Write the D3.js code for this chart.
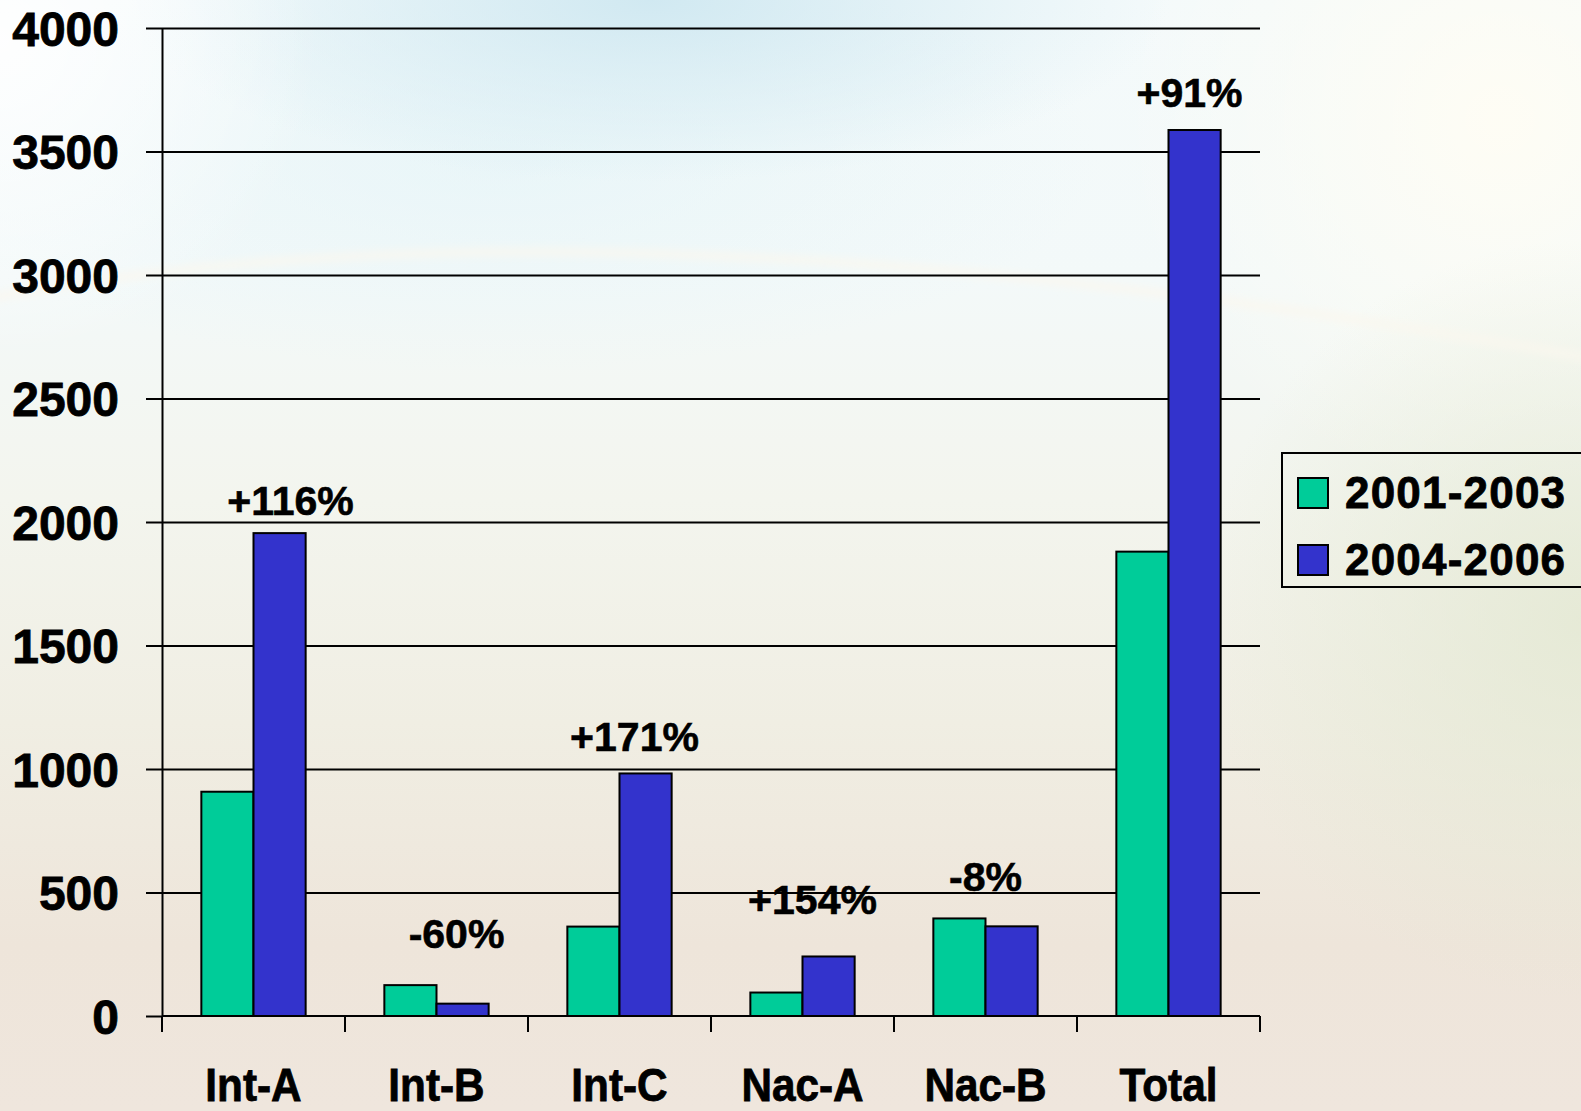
<!DOCTYPE html>
<html>
<head>
<meta charset="utf-8">
<script src="https://cdn.jsdelivr.net/npm/d3@7"></script>
<style>
  html, body { margin: 0; padding: 0; overflow: hidden; }
  svg { display: block; }
</style>
</head>
<body>
<svg id="chart" width="1581" height="1111"></svg>
<script>
// ---- data ----
const categories = ["Int-A", "Int-B", "Int-C", "Nac-A", "Nac-B", "Total"];
const seriesNames = ["2001-2003", "2004-2006"];
const values2001_2003 = [908, 125, 362, 95, 395, 1880];
const values2004_2006 = [1955, 50, 982, 241, 363, 3587];
const changeLabels = ["+116%", "-60%", "+171%", "+154%", "-8%", "+91%"];
const yTicks = [0, 500, 1000, 1500, 2000, 2500, 3000, 3500, 4000];

// ---- layout / style ----
const W = 1581, H = 1111;
const colors = ["#00CC99", "#3333CC"];
const plotLeft = 162, plotRight = 1260, plotTop = 28, plotBottom = 1016;
// label offsets (dx from group centre, dy above taller bar)
const labelNudge = [[37, -18], [20, -37], [15, -22], [10, -42], [0, -27], [21, -23]];

const svg = d3.select("#chart");
const defs = svg.append("defs");

function radial(id, cx, cy, r, color, op, transform) {
  const g = defs.append("radialGradient").attr("id", id).attr("gradientUnits", "userSpaceOnUse")
    .attr("cx", cx).attr("cy", cy).attr("r", r);
  if (transform) g.attr("gradientTransform", transform);
  g.append("stop").attr("offset", "0%").attr("stop-color", color).attr("stop-opacity", op);
  g.append("stop").attr("offset", "100%").attr("stop-color", color).attr("stop-opacity", 0);
}

// background
const lg = defs.append("linearGradient").attr("id", "bg").attr("x1", 0).attr("y1", 0).attr("x2", 0).attr("y2", 1);
[["0%", "#f4fafb"], ["25%", "#f3f9f9"], ["45%", "#f3f5ee"], ["65%", "#f0eee3"], ["85%", "#eee5da"], ["100%", "#efe6dd"]]
  .forEach(([o, c]) => lg.append("stop").attr("offset", o).attr("stop-color", c));
radial("bgBlue", 650, 0, 520, "#cfe8f1", 0.95, "translate(650,0) scale(1,0.35) translate(-650,0)");
radial("bgCyan2", 500, 160, 600, "#e2f3f7", 0.6, "translate(500,160) scale(1,0.35) translate(-500,-160)");
radial("bgCream", 1500, 120, 380, "#fffdf4", 0.95);
radial("bgGreen", 1581, 620, 380, "#e3e8d2", 0.8);
radial("bgWhite", 0, 40, 320, "#ffffff", 0.9);
const blur = defs.append("filter").attr("id", "blur").attr("x", "-20%").attr("y", "-20%").attr("width", "140%").attr("height", "140%");
blur.append("feGaussianBlur").attr("stdDeviation", 4);

svg.append("rect").attr("width", W).attr("height", H).attr("fill", "url(#bg)");
svg.append("rect").attr("width", W).attr("height", H).attr("fill", "url(#bgCyan2)");
svg.append("rect").attr("width", W).attr("height", H).attr("fill", "url(#bgBlue)");
svg.append("rect").attr("width", W).attr("height", H).attr("fill", "url(#bgCream)");
svg.append("rect").attr("width", W).attr("height", H).attr("fill", "url(#bgGreen)");
svg.append("rect").attr("width", W).attr("height", H).attr("fill", "url(#bgWhite)");
svg.append("path").attr("d", "M-20,300 Q600,180 1600,360")
  .attr("fill", "none").attr("stroke", "#fbf7ee").attr("stroke-opacity", 0.9).attr("stroke-width", 7)
  .attr("filter", "url(#blur)");

// scales
const x = d3.scaleBand().domain(categories).range([plotLeft, plotRight]).padding(0);
const groupW = x.bandwidth() * 0.57;
const x1 = d3.scaleBand().domain(seriesNames).range([0, groupW]).padding(0);
const y = d3.scaleLinear().domain([0, 4000]).range([plotBottom, plotTop]);

const tickFont = "'Liberation Sans', Arial, sans-serif";

// gridlines
const grid = svg.append("g").attr("transform", `translate(${plotLeft},0)`)
  .call(d3.axisLeft(y).tickValues(yTicks.filter(v => v > 0)).tickSize(-(plotRight - plotLeft)).tickFormat(""));
grid.select(".domain").remove();
grid.selectAll("line").attr("stroke", "#000").attr("stroke-width", 2);

// bars
const rows = categories.map((c, i) => ({ cat: c, vals: [values2001_2003[i], values2004_2006[i]] }));
const groups = svg.append("g").selectAll("g").data(rows).join("g")
  .attr("transform", d => `translate(${x(d.cat) + (x.bandwidth() - groupW) / 2},0)`);
groups.selectAll("rect").data(d => d.vals.map((v, j) => ({ s: seriesNames[j], v, j }))).join("rect")
  .attr("x", d => x1(d.s))
  .attr("width", x1.bandwidth())
  .attr("y", d => y(d.v))
  .attr("height", d => y(0) - y(d.v))
  .attr("fill", d => colors[d.j])
  .attr("stroke", "#000").attr("stroke-width", 2);

// y axis
const yAxis = svg.append("g").attr("transform", `translate(${plotLeft},0)`)
  .call(d3.axisLeft(y).tickValues(yTicks).tickSize(16).tickSizeOuter(0).tickPadding(27).tickFormat(d3.format("d")));
yAxis.select(".domain").attr("stroke", "#000").attr("stroke-width", 2);
yAxis.selectAll("line").attr("stroke", "#000").attr("stroke-width", 2);
yAxis.selectAll("text").attr("font-family", tickFont).attr("font-weight", "bold")
  .attr("font-size", 48).attr("fill", "#000").attr("dy", "0.36em")
  .attr("stroke", "#000").attr("stroke-width", 0.8);

// x axis
const xAxis = svg.append("g").attr("transform", `translate(0,${plotBottom})`)
  .call(d3.axisBottom(x).tickSize(0).tickPadding(0));
xAxis.select(".domain").attr("stroke", "#000").attr("stroke-width", 2).attr("d", `M${plotLeft},0H${plotRight}`);
xAxis.selectAll("text").attr("font-family", tickFont).attr("font-weight", "bold")
  .attr("font-size", 47).attr("fill", "#000").attr("dy", 0).attr("y", 85)
  .attr("stroke", "#000").attr("stroke-width", 0.8)
  .attr("transform", "scale(0.9,1)");
const bounds = categories.map(c => x(c)).concat([x.range()[1]]);
xAxis.selectAll("line.bound").data(bounds).join("line").attr("class", "bound")
  .attr("x1", d => d).attr("x2", d => d).attr("y1", 0).attr("y2", 16)
  .attr("stroke", "#000").attr("stroke-width", 2);

// change labels
svg.append("g").selectAll("text").data(rows).join("text")
  .attr("x", (d, i) => x(d.cat) + x.bandwidth() / 2 + labelNudge[i][0])
  .attr("y", (d, i) => y(Math.max(...d.vals)) + labelNudge[i][1])
  .attr("text-anchor", "middle")
  .attr("font-family", tickFont).attr("font-weight", "bold").attr("font-size", 41).attr("fill", "#000")
  .attr("stroke", "#000").attr("stroke-width", 0.6)
  .text((d, i) => changeLabels[i]);

// legend
const lgX = 1282, lgY = 453;
const leg = svg.append("g").attr("transform", `translate(${lgX},${lgY})`);
leg.append("rect").attr("width", 330).attr("height", 134).attr("fill", "none")
  .attr("stroke", "#000").attr("stroke-width", 2);
const items = leg.selectAll("g").data(seriesNames).join("g")
  .attr("transform", (d, i) => `translate(16,${25 + i * 67})`);
items.append("rect").attr("width", 30).attr("height", 30)
  .attr("fill", (d, i) => colors[i]).attr("stroke", "#000").attr("stroke-width", 2);
items.append("text").attr("x", 47).attr("y", 30)
  .attr("font-family", tickFont).attr("font-weight", "bold").attr("font-size", 44)
  .attr("letter-spacing", 1.2).attr("fill", "#000")
  .attr("stroke", "#000").attr("stroke-width", 0.8).text(d => d);
</script>
</body>
</html>
